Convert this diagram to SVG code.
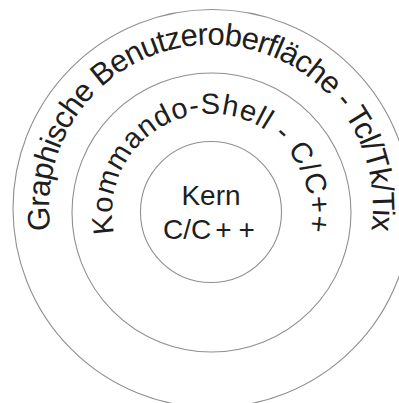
<svg xmlns="http://www.w3.org/2000/svg" xmlns:xlink="http://www.w3.org/1999/xlink" width="399" height="403" viewBox="0 0 399 403">
<style>
.ring{fill:none;stroke:#8f8f8f;stroke-width:1.1}
.lbl{font-family:"Liberation Sans",Arial,sans-serif;fill:#1e1e1e}
</style>
<defs>
<path id="arcOuter" d="M 50.7 230.1 A 162 162 0 1 1 371.3 230.1"/>
<path id="arcMiddle" d="M 114.1 233.2 A 99 99 0 1 1 308.6 229.3"/>
</defs>
<rect width="399" height="403" fill="#ffffff"/>
<g id="outer">
<circle class="ring" cx="212" cy="208.5" r="199"/>
<text class="lbl" font-size="31"><textPath xlink:href="#arcOuter" href="#arcOuter" textLength="556" lengthAdjust="spacing">Graphische Benutzeroberfläche - Tcl/Tk/Tix</textPath></text>
</g>
<g id="middle">
<circle class="ring" cx="211.5" cy="212.5" r="139.5"/>
<text class="lbl" font-size="29"><textPath xlink:href="#arcMiddle" href="#arcMiddle" textLength="350" lengthAdjust="spacing">Kommando-Shell - C/C++</textPath></text>
</g>
<g id="inner">
<circle class="ring" cx="211" cy="212" r="70.5"/>
<text class="lbl" font-size="28" x="211" y="205" text-anchor="middle">Kern</text>
<text class="lbl" font-size="28" x="163" y="239">C/C<tspan dx="4">+</tspan><tspan dx="7">+</tspan></text>
</g>
<g id="connectors"/>
</svg>
